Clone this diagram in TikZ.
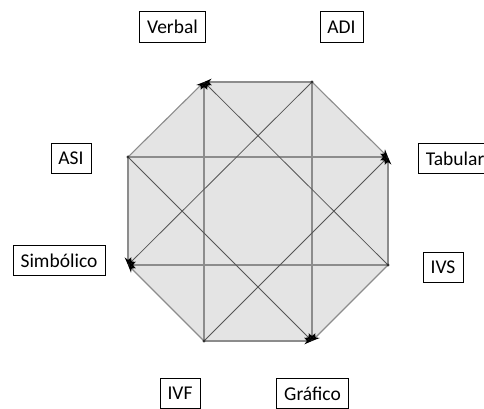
\documentclass[tikz,border=0pt]{standalone}
\usepackage{fontspec}
\setmainfont{Carlito}
\usetikzlibrary{arrows.meta}
\definecolor{octfill}{RGB}{228,228,228}
\definecolor{edgegray}{RGB}{140,140,140}
\definecolor{diaggray}{RGB}{85,85,85}
\tikzset{
  lbl/.style={draw=black, line width=0.8pt, fill=white, inner xsep=7.5pt, minimum height=30.5pt, font=\fontsize{19.5}{22}\selectfont},
  edgearrow/.style={draw=edgegray, line width=1.1pt, -{Stealth[black,length=7.5pt,width=6.5pt]}},
  diagarrow/.style={draw=diaggray, line width=0.8pt, -{Stealth[black,length=7.5pt,width=6.5pt]}},
  vdot/.style={fill=black!80, circle, inner sep=0pt, minimum size=3.2pt}
}
\begin{document}
\begin{tikzpicture}[x=1pt,y=-1pt]
\useasboundingbox (0,0) rectangle (484,408);
\clip (0,0) rectangle (484,408);
\coordinate (A) at (204,82);
\coordinate (B) at (312,82);
\coordinate (C) at (388,157);
\coordinate (D) at (388,265);
\coordinate (E) at (312,341);
\coordinate (F) at (204,341);
\coordinate (G) at (128,265);
\coordinate (H) at (128,157);
\fill[octfill] (A) -- (B) -- (C) -- (D) -- (E) -- (F) -- (G) -- (H) -- cycle;
% edges
\draw[edgearrow] (B) -- (A);
\draw[edgearrow] (H) -- (A);
\draw[edgearrow] (B) -- (C);
\draw[edgearrow] (D) -- (C);
\draw[edgearrow] (D) -- (E);
\draw[edgearrow] (F) -- (E);
\draw[edgearrow] (F) -- (G);
\draw[edgearrow] (H) -- (G);
% verticals and horizontals
\draw[edgearrow] (F) -- (A);
\draw[edgearrow] (B) -- (E);
\draw[edgearrow] (H) -- (C);
\draw[edgearrow] (D) -- (G);
% diagonals
\draw[diagarrow] (D) -- (A);
\draw[diagarrow] (B) -- (G);
\draw[diagarrow] (H) -- (E);
\draw[diagarrow] (F) -- (C);
% vertex dots
\node[vdot] (dB) at (B) {};
\node[vdot] (dD) at (D) {};
\node[vdot] (dF) at (F) {};
\node[vdot] (dH) at (H) {};
% labels
\node[lbl] (verbal) at (172.5,27) {Verbal};
\node[lbl] (adi) at (341.5,27) {ADI};
\node[lbl] (asi) at (71,158.5) {ASI};
\node[lbl, anchor=west] (tabular) at (418,158.5) {Tabular};
\node[lbl] (simb) at (59,260.5) {Simbólico};
\node[lbl] (ivs) at (443,267.5) {IVS};
\node[lbl] (ivf) at (180,393.5) {IVF};
\node[lbl] (graf) at (312.5,393.5) {Gráfico};
\end{tikzpicture}
\end{document}
